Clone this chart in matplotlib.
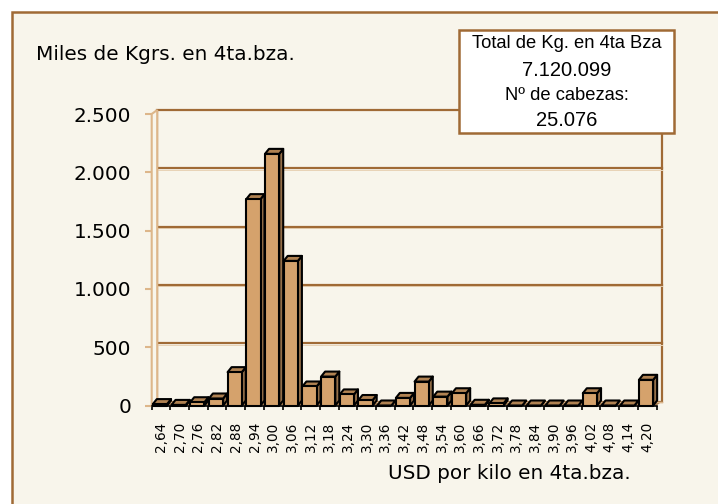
import matplotlib
matplotlib.use("Agg")
import matplotlib.pyplot as plt
from matplotlib.patches import Rectangle, Polygon
from matplotlib.transforms import IdentityTransform
import numpy as np

categories = ['2,64', '2,70', '2,76', '2,82', '2,88', '2,94', '3,00', '3,06', '3,12',
              '3,18', '3,24', '3,30', '3,36', '3,42', '3,48', '3,54', '3,60', '3,66',
              '3,72', '3,78', '3,84', '3,90', '3,96', '4,02', '4,08', '4,14', '4,20']
values = [12, 5, 28, 60, 286, 1770, 2158, 1240, 163, 248, 95, 47, 0, 65, 205, 76,
          105, 6, 18, 0, 0, 0, 0, 105, 0, 0, 220]
y_ticks = [0, 500, 1000, 1500, 2000, 2500]
y_ticklabels = ['0', '500', '1.000', '1.500', '2.000', '2.500']
title_text = 'Miles de Kgrs. en 4ta.bza.'
xlabel_text = 'USD por kilo en 4ta.bza.'
box_lines = ['Total de Kg. en 4ta Bza', '7.120.099', 'Nº de cabezas:', '25.076']

W, H = 718, 504
cream = '#F8F5EB'
brown = '#A06A35'
tan = '#DDB68A'
front_c = '#D5A26C'
side_c = '#967049'
top_c = '#B08252'
floor_c = '#A57A4E'

fig = plt.figure(figsize=(W / 100, H / 100), dpi=100)
fig.patch.set_facecolor('white')
fig.patches.append(Rectangle((12 / W, -0.1), 1.2, (H - 12) / H + 0.1,
                             transform=fig.transFigure, fc=cream, ec=brown,
                             lw=1.8, zorder=-5))

ax = fig.add_axes([151.7 / W, 1 - 405.5 / H, (656.5 - 151.7) / W, (405.5 - 114) / H])
ax.set_zorder(1)
ax.set_xlim(-0.5, len(categories) - 0.5)
ax.set_ylim(0, 2500)
ax.patch.set_visible(False)
for s in ax.spines.values():
    s.set_visible(False)

x = np.arange(len(categories))
ax.set_yticks(y_ticks)
ax.set_yticklabels(y_ticklabels, fontsize=14.4, family='DejaVu Sans')
ax.tick_params(axis='y', length=4.8, width=1.5, color=tan, pad=10)
ax.set_xticks(x)
ax.set_xticklabels(categories, rotation=90, fontsize=9.8, family='DejaVu Sans', va='top')
ax.tick_params(axis='x', which='major', length=0, pad=11.5)
ax.set_xticks(np.arange(-0.5, len(categories)), minor=True)
ax.tick_params(axis='x', which='minor', length=3.2, width=1.2, color='black')

wdx, wdy = 5.5, 4.0
bdx, bdy = 4.0, 5.0
ID = IdentityTransform()


def D(px, py):
    return np.array(ax.transData.transform((px, py)))


xmin, xmax = -0.5, len(categories) - 0.5
# back wall
p0, p1, p2, p3 = D(xmin, 0), D(xmax, 0), D(xmax, 2500), D(xmin, 2500)
off = np.array([wdx, wdy])
ax.add_patch(Polygon([p0 + off, p1 + off, p2 + off, p3 + off], closed=True,
                     fc=cream, ec=brown, lw=1.6, transform=ID, clip_on=False, zorder=1))
# gridlines on back wall
for v in y_ticks[1:-1]:
    a = D(xmin, v) + off
    b = D(xmax, v) + off
    ax.add_line(plt.Line2D([a[0], b[0]], [a[1] - 1.5, b[1] - 1.5], color='#E8D2B6', lw=0.7,
                           transform=ID, clip_on=False, zorder=1.5))
    ax.add_line(plt.Line2D([a[0], b[0]], [a[1], b[1]], color=brown, lw=1.6,
                           transform=ID, clip_on=False, zorder=1.6))
# left side wall
ax.add_patch(Polygon([p0, p3, p3 + off, p0 + off], closed=True, fc=cream, ec=tan,
                     lw=1.5, transform=ID, clip_on=False, zorder=2))
# floor
ax.add_patch(Polygon([p0, p1, p1 + off, p0 + off], closed=True, fc=floor_c, ec='none',
                     transform=ID, clip_on=False, zorder=2))
ax.add_line(plt.Line2D([p0[0] + wdx, p1[0] + wdx], [p0[1] + wdy, p1[1] + wdy], color=tan,
                       lw=1.0, transform=ID, clip_on=False, zorder=2.1))
ax.add_line(plt.Line2D([p0[0], p1[0]], [p0[1], p1[1]], color='black', lw=1.2,
                       transform=ID, clip_on=False, zorder=2.2))

# bars
bw = 0.76
boff = -0.06
boffv = np.array([bdx, bdy])
for i, v in enumerate(values):
    x0 = i + boff - bw / 2
    x1 = i + boff + bw / 2
    a, b, c, d = D(x0, 0), D(x1, 0), D(x1, v), D(x0, v)
    z = 3 + i * 0.01
    ax.add_patch(Polygon([b, c, c + boffv, b + boffv], closed=True, fc=side_c, ec='black',
                         lw=1.5, joinstyle='round', transform=ID, clip_on=False, zorder=z))
    ax.add_patch(Polygon([d, c, c + boffv, d + boffv], closed=True, fc=top_c, ec='black',
                         lw=1.5, joinstyle='round', transform=ID, clip_on=False, zorder=z))
    ax.add_patch(Polygon([a, b, c, d], closed=True, fc=front_c, ec='black', lw=1.5,
                         joinstyle='round', transform=ID, clip_on=False, zorder=z + 0.005))

# texts
fig.text(36 / W, 1 - 60 / H, title_text, fontsize=14.4, family='DejaVu Sans',
         va='baseline', ha='left')
fig.text(388 / W, 1 - 479.3 / H, xlabel_text, fontsize=14.4, family='DejaVu Sans',
         va='baseline', ha='left')

# info box
bx0, bx1, by0, by1 = 459, 674, 30, 133
fig.patches.append(Rectangle((bx0 / W, 1 - by1 / H), (bx1 - bx0) / W, (by1 - by0) / H,
                             transform=fig.transFigure, fc='white', ec=brown, lw=1.8,
                             zorder=5))
cx = (bx0 + bx1) / 2 / W
for txt, yc, fs in zip(box_lines, [44, 71, 95, 121], [13.2, 14.5, 13.2, 14.5]):
    fig.text(cx, 1 - yc / H, txt, fontsize=fs, family='Liberation Sans', ha='center',
             va='center', zorder=6)

fig.savefig('out.png', dpi=100)
